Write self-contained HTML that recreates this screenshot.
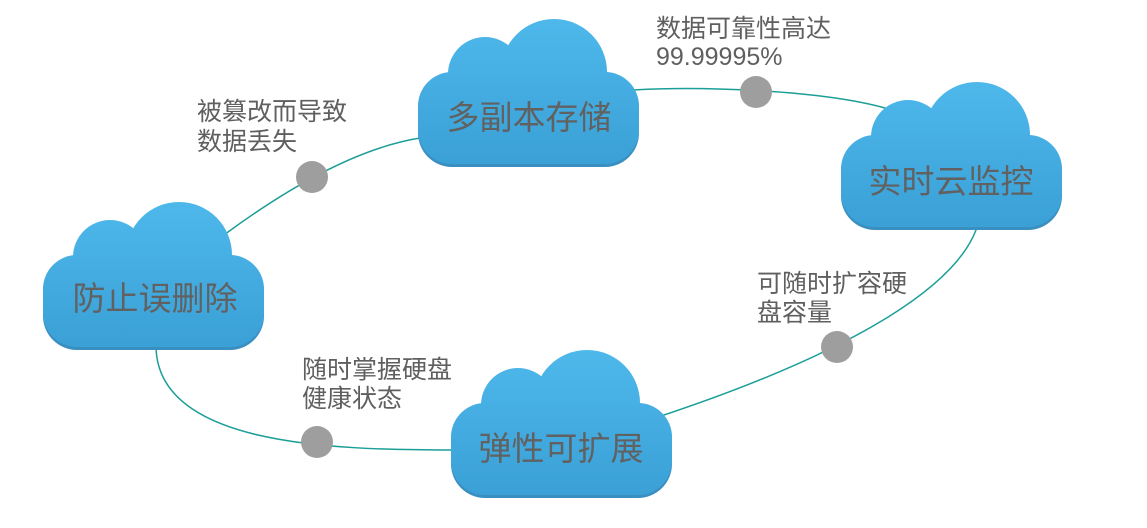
<!DOCTYPE html>
<html>
<head>
<meta charset="utf-8">
<style>
  html,body{margin:0;padding:0;background:#fff;}
  body{width:1147px;height:528px;overflow:hidden;}
  svg{display:block;}
  .ct{font-family:"Liberation Sans","Noto Sans CJK SC","WenQuanYi Zen Hei",sans-serif;font-size:33px;fill:#616161;text-anchor:middle;}
  .lb{font-family:"Liberation Sans","Noto Sans CJK SC","WenQuanYi Zen Hei",sans-serif;font-size:25px;fill:#5f5f5f;}
</style>
</head>
<body>
<svg width="1147" height="528" viewBox="0 0 1147 528" xmlns="http://www.w3.org/2000/svg">
  <defs>
    <linearGradient id="cg" gradientUnits="userSpaceOnUse" x1="0" y1="0" x2="0" y2="146">
      <stop offset="0" stop-color="#4eb8eb"/>
      <stop offset="1" stop-color="#3aa0d6"/>
    </linearGradient>
    <g id="cloud">
      <g fill="#3a8fc1">
        <rect x="0" y="55" width="221" height="93" rx="34" ry="34"/>
      </g>
      <g fill="url(#cg)">
        <rect x="0" y="53" width="221" height="92" rx="34" ry="34"/>
        <circle cx="67" cy="55" r="37"/>
        <circle cx="136" cy="53" r="53"/>
      </g>
    </g>
  </defs>

  <!-- connectors -->
  <g fill="none" stroke="#1b9e98" stroke-width="1.5">
    <path d="M220,237 L228,232 C265,205 345,150 420,138 L440,134"/>
    <path d="M620,91 L633,90 C700,86 820,90 885,108 L900,113"/>
    <path d="M979,222 L976,230 C955,285 860,350 658,417 L640,423"/>
    <path d="M470,450 L452,450 C330,450 158,445 156,347 L156,335"/>
  </g>

  <!-- dots -->
  <g fill="#9e9e9e">
    <circle cx="756" cy="92" r="16"/>
    <circle cx="312" cy="177" r="16"/>
    <circle cx="837" cy="347" r="16"/>
    <circle cx="317" cy="442" r="16"/>
  </g>

  <!-- clouds -->
  <g transform="translate(418,19)">
    <use href="#cloud"/>
    <text class="ct" x="111" y="110">多副本存储</text>
  </g>
  <g transform="translate(841,82)">
    <use href="#cloud"/>
    <text class="ct" x="110" y="111">实时云监控</text>
  </g>
  <g transform="translate(43,202)">
    <use href="#cloud"/>
    <text class="ct" x="112" y="108">防止误删除</text>
  </g>
  <g transform="translate(451,350)">
    <use href="#cloud"/>
    <text class="ct" x="110" y="110">弹性可扩展</text>
  </g>

  <!-- labels -->
  <text class="lb" x="656" y="37">数据可靠性高达</text>
  <text class="lb" x="656" y="65">99.99995%</text>

  <text class="lb" x="197" y="120">被篡改而导致</text>
  <text class="lb" x="197" y="150">数据丢失</text>

  <text class="lb" x="757" y="292">可随时扩容硬</text>
  <text class="lb" x="757" y="321">盘容量</text>

  <text class="lb" x="302" y="378">随时掌握硬盘</text>
  <text class="lb" x="302" y="407">健康状态</text>
</svg>
</body>
</html>
